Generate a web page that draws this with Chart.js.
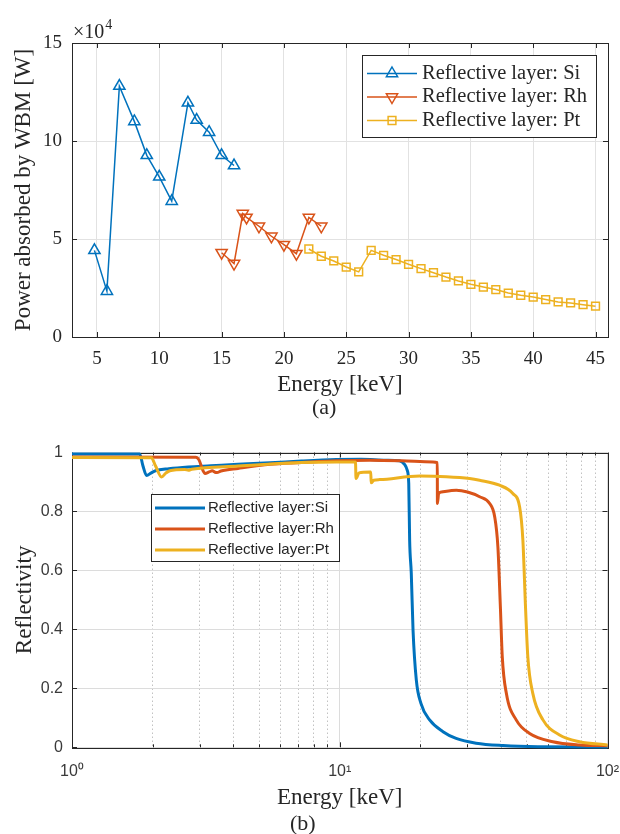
<!DOCTYPE html>
<html>
<head>
<meta charset="utf-8">
<script src="https://cdn.jsdelivr.net/npm/chart.js@4.4.1/dist/chart.umd.min.js"></script>
<style>
  body { margin: 0; background: #fff; }
  #wrap { position: relative; width: 620px; height: 834px; }
  canvas { position: absolute; left: 0; }
  #power { top: 0; }
  #refl { top: 415px; }
  .cap { position: absolute; font: 22px "Liberation Serif", "Times New Roman", serif; color: #262626; line-height: 1; }
</style>
</head>
<body>
<div id="wrap">
  <canvas id="power" width="620" height="415"></canvas>
  <canvas id="refl" width="620" height="419"></canvas>
  <div class="cap" style="left:312px; top:396px">(a)</div>
  <div class="cap" style="left:290px; top:812px">(b)</div>
</div>
<script>
// (a) power absorbed by the white beam mirror, in W
const siEnergy = [4.8, 5.8, 6.8, 8, 9, 10, 11, 12.3, 13, 14, 15, 16];
const siPower = [44200, 23400, 128000, 110000, 92700, 81700, 69300, 119500, 110700, 104500, 92700, 87500];
const rhEnergy = [15, 16, 16.7, 17, 18, 19, 20, 21, 22, 23];
const rhPower = [43000, 37500, 63000, 61000, 56500, 51400, 47100, 42500, 61000, 56500];
const ptEnergy = [22, 23, 24, 25, 26, 27, 28, 29, 30, 31, 32, 33, 34, 35, 36, 37, 38, 39, 40, 41, 42, 43, 44, 45];
const ptPower = [44900, 41200, 38800, 35700, 33200, 44200, 41700, 39500, 37100, 34900, 32800, 30600,
                 28600, 26900, 25500, 24200, 22400, 21300, 20400, 19100, 17900, 17400, 16500, 15700];
const powerXTicks = [5, 10, 15, 20, 25, 30, 35, 40, 45];
const powerYTicks = [0, 50000, 100000, 150000];

// (b) reflectivity vs energy (keV)
const siReflE = [1, 1.79, 1.84, 1.9, 1.97, 2.05, 2.3, 2.72, 3.3, 4.17, 5.5, 7.2, 9.7, 12, 14.9, 16.7,
                 17.45, 17.86, 18.1, 18.24, 18.5, 18.78, 19.32, 20.1, 21.7, 24.3, 27.2, 32.3, 40.7, 55, 100];
const siRefl = [0.995, 0.995, 0.955, 0.922, 0.93, 0.938, 0.945, 0.951, 0.955, 0.96, 0.965, 0.971, 0.976, 0.977, 0.974, 0.972,
                0.96, 0.94, 0.895, 0.703, 0.59, 0.398, 0.228, 0.149, 0.092, 0.053, 0.03, 0.014, 0.006, 0.002, 0.001];
const rhReflE = [1, 2.9, 2.98, 3.08, 3.14, 3.25, 3.34, 3.42, 3.48, 3.6, 4.17, 5.5, 7.2, 9.7, 12.9, 17, 22.3, 23.14,
                 23.16, 23.4, 24, 27.25, 30, 33.3, 36.3, 37.9, 38.96, 39.8, 40.46, 41.9, 45.6, 51.2, 62.5, 78.6, 100];
const rhRefl = [0.985, 0.984, 0.975, 0.94, 0.929, 0.934, 0.938, 0.933, 0.932, 0.937, 0.946, 0.96, 0.966, 0.972, 0.974, 0.972, 0.968, 0.966,
                0.827, 0.86, 0.866, 0.872, 0.866, 0.85, 0.827, 0.782, 0.68, 0.477, 0.307, 0.183, 0.093, 0.047, 0.019, 0.008, 0.005];
const ptReflE = [1, 1.98, 2.05, 2.16, 2.24, 2.32, 2.64, 2.72, 2.8, 4.17, 7.2, 9.72, 11.45, 11.5, 11.8, 12.94, 13.06, 13.1,
                 13.4, 14.1, 19.9, 25, 30.55, 33.3, 39.5, 44.3, 46.96, 48.3, 49.4, 50.4, 52.6, 57.4, 66.2, 78.6, 100];
const ptRefl = [0.983, 0.982, 0.955, 0.917, 0.93, 0.938, 0.942, 0.94, 0.943, 0.954, 0.966, 0.968, 0.968, 0.912, 0.931, 0.934, 0.934, 0.897,
                0.906, 0.908, 0.92, 0.918, 0.912, 0.906, 0.889, 0.861, 0.816, 0.703, 0.477, 0.307, 0.183, 0.093, 0.042, 0.019, 0.008];
const reflXTicks = [1, 2, 3, 4, 5, 6, 7, 8, 9, 10, 20, 30, 40, 50, 60, 70, 80, 90, 100];
const reflYTicks = [0, 0.2, 0.4, 0.6, 0.8, 1];

const BLUE = '#0072BD', RED = '#D95319', GOLD = '#EDB120';
const ink = '#262626';
const serif = '"Liberation Serif", "Times New Roman", serif';
const sans = '"Liberation Sans", Arial, sans-serif';
const supDigits = ['\u2070', '\u00B9', '\u00B2'];

function pts(xs, ys) {
    return xs.map((x, i) => ({x: x, y: ys[i]}));
}
function isDecade(v) {
    const l = Math.log10(v);
    return Math.abs(l - Math.round(l)) < 1e-9;
}

// open marker for the legend, same shapes chart.js uses for the points
function marker(ctx, style, rot, x, y, r) {
    ctx.beginPath();
    if (style === 'triangle') {
        const s = rot === 180 ? -1 : 1;
        ctx.moveTo(x, y - s * r);
        ctx.lineTo(x + r * 0.866, y + s * r * 0.5);
        ctx.lineTo(x - r * 0.866, y + s * r * 0.5);
        ctx.closePath();
    } else {
        const h = r * Math.SQRT1_2;
        ctx.rect(x - h, y - h, 2 * h, 2 * h);
    }
    ctx.stroke();
}

// matlab style box around the axes with small inward ticks
const axesBox = {
    id: 'axesBox',
    beforeDatasetsDraw(chart, args, o) {
        const {ctx, chartArea: a} = chart;
        const x = chart.scales.x, y = chart.scales.y;
        ctx.save();
        ctx.strokeStyle = ink;
        ctx.lineWidth = 1;
        ctx.beginPath();
        x.ticks.forEach(t => {
            const p = Math.round(x.getPixelForValue(t.value)) + 0.5;
            const len = (o.minorX && !isDecade(t.value)) ? 3 : 5;
            ctx.moveTo(p, a.bottom); ctx.lineTo(p, a.bottom - len);
            ctx.moveTo(p, a.top); ctx.lineTo(p, a.top + len);
        });
        y.ticks.forEach(t => {
            const p = Math.round(y.getPixelForValue(t.value)) + 0.5;
            ctx.moveTo(a.left, p); ctx.lineTo(a.left + 5, p);
            ctx.moveTo(a.right, p); ctx.lineTo(a.right - 5, p);
        });
        ctx.stroke();
        ctx.strokeRect(Math.round(a.left) + 0.5, Math.round(a.top) + 0.5,
                       Math.round(a.right - a.left), Math.round(a.bottom - a.top));
        ctx.restore();
    }
};

const boxLegend = {
    id: 'boxLegend',
    afterDraw(chart, args, o) {
        const ctx = chart.ctx;
        ctx.save();
        ctx.fillStyle = '#fff';
        ctx.fillRect(o.x, o.y, o.w, o.h);
        ctx.strokeStyle = ink;
        ctx.lineWidth = 1;
        ctx.strokeRect(o.x + 0.5, o.y + 0.5, o.w, o.h);
        ctx.font = o.font;
        ctx.textBaseline = 'middle';
        chart.data.datasets.forEach((ds, i) => {
            const ry = o.rows[i];
            ctx.strokeStyle = ds.borderColor;
            ctx.lineWidth = ds.borderWidth;
            ctx.beginPath();
            ctx.moveTo(o.x0, ry);
            ctx.lineTo(o.x1, ry);
            ctx.stroke();
            if (ds.pointRadius) {
                ctx.lineWidth = ds.pointBorderWidth;
                marker(ctx, ds.pointStyle, ds.pointRotation, (o.x0 + o.x1) / 2, ry, ds.pointRadius);
            }
            ctx.fillStyle = ink;
            ctx.fillText(ds.label, o.tx, ry);
        });
        if (o.exponent) {
            const a = chart.chartArea;
            ctx.font = '20px ' + serif;
            ctx.textBaseline = 'alphabetic';
            ctx.fillText('\u00D710', a.left + 1, a.top - 5);
            const w = ctx.measureText('\u00D710').width;
            ctx.font = '14px ' + serif;
            ctx.fillText(o.exponent, a.left + 2 + w, a.top - 14);
        }
        ctx.restore();
    }
};

function powerSet(label, xs, ys, color, style, rot, r) {
    return {
        label: label, data: pts(xs, ys), borderColor: color, borderWidth: 1.5, tension: 0, fill: false,
        pointStyle: style, pointRotation: rot, pointRadius: r, pointBorderWidth: 1.5,
        pointBorderColor: color, pointBackgroundColor: 'rgba(0,0,0,0)'
    };
}

new Chart(document.getElementById('power'), {
    type: 'line',
    data: {
        datasets: [
            powerSet('Reflective layer: Si', siEnergy, siPower, BLUE, 'triangle', 0, 6.5),
            powerSet('Reflective layer: Rh', rhEnergy, rhPower, RED, 'triangle', 180, 6.5),
            powerSet('Reflective layer: Pt', ptEnergy, ptPower, GOLD, 'rect', 0, 5.5)
        ]
    },
    options: {
        responsive: false,
        animation: false,
        layout: {padding: {top: 43, right: 12, left: 0, bottom: 0}},
        plugins: {
            legend: {display: false},
            tooltip: {enabled: false},
            axesBox: {},
            boxLegend: {x: 362, y: 55, w: 234, h: 82, x0: 367, x1: 417, tx: 422,
                        rows: [73.5, 97, 120.5], font: '20.5px ' + serif, exponent: '4'}
        },
        scales: {
            x: {
                type: 'linear', min: 3, max: 46,
                afterBuildTicks: s => { s.ticks = powerXTicks.map(v => ({value: v})); },
                afterFit: s => { s.height = 78; s.paddingLeft = 0; s.paddingRight = 0; },
                grid: {color: '#e2e2e2', drawTicks: false},
                border: {display: false},
                ticks: {autoSkip: false, maxRotation: 0, padding: 11, color: ink, font: {family: serif, size: 19}},
                title: {display: true, text: 'Energy [keV]', color: ink, font: {family: serif, size: 23},
                        padding: {top: 0, bottom: 16}}
            },
            y: {
                min: 0, max: 150000,
                afterBuildTicks: s => { s.ticks = powerYTicks.map(v => ({value: v})); },
                afterFit: s => { s.width = 72; },
                grid: {color: '#e2e2e2', drawTicks: false},
                border: {display: false},
                ticks: {padding: 10, color: ink, font: {family: serif, size: 19}, callback: v => v / 1e4},
                title: {display: true, text: 'Power absorbed by WBM [W]', color: ink, font: {family: serif, size: 23},
                        padding: {top: 10, bottom: 0}}
            }
        }
    },
    plugins: [axesBox, boxLegend]
});

function reflSet(label, xs, ys, color, order) {
    return {label: label, data: pts(xs, ys), borderColor: color, borderWidth: 3, pointRadius: 0,
            cubicInterpolationMode: 'monotone', fill: false, order: order, clip: 5};
}

new Chart(document.getElementById('refl'), {
    type: 'line',
    data: {
        datasets: [
            reflSet('Reflective layer:Si', siReflE, siRefl, BLUE, 2),
            reflSet('Reflective layer:Rh', rhReflE, rhRefl, RED, 1),
            reflSet('Reflective layer:Pt', ptReflE, ptRefl, GOLD, 0)
        ]
    },
    options: {
        responsive: false,
        animation: false,
        layout: {padding: {top: 37.5, right: 12.5, left: 0, bottom: 0}},
        plugins: {
            legend: {display: false},
            tooltip: {enabled: false},
            axesBox: {minorX: true},
            boxLegend: {x: 151, y: 79, w: 188, h: 67, x0: 155, x1: 205, tx: 208,
                        rows: [93, 114, 135], font: '15px ' + sans}
        },
        scales: {
            x: {
                type: 'logarithmic', min: 1, max: 100,
                afterBuildTicks: s => { s.ticks = reflXTicks.map(v => ({value: v})); },
                afterFit: s => { s.height = 86.7; s.paddingLeft = 0; s.paddingRight = 0; },
                grid: {drawTicks: false, color: c => (c.tick && !isDecade(c.tick.value)) ? '#c2c2c2' : '#dcdcdc'},
                border: {display: false, dash: c => (c.tick && !isDecade(c.tick.value)) ? [1.5, 2.5] : []},
                ticks: {autoSkip: false, maxRotation: 0, padding: 15, color: '#3a3a3a', font: {family: sans, size: 16},
                        callback: v => isDecade(v) ? '10' + supDigits[Math.round(Math.log10(v))] : ''},
                title: {display: true, text: 'Energy [keV]', color: ink, font: {family: serif, size: 23},
                        padding: {top: 0, bottom: 22}}
            },
            y: {
                min: 0, max: 1,
                afterBuildTicks: s => { s.ticks = reflYTicks.map(v => ({value: v})); },
                afterFit: s => { s.width = 72; },
                grid: {color: '#dcdcdc', drawTicks: false},
                border: {display: false},
                ticks: {padding: 9, color: '#3a3a3a', font: {family: sans, size: 16},
                        callback: v => String(Math.round(v * 10) / 10)},
                title: {display: true, text: 'Reflectivity', color: ink, font: {family: serif, size: 23},
                        padding: {top: 11, bottom: 0}}
            }
        }
    },
    plugins: [axesBox, boxLegend]
});
</script>
</body>
</html>
